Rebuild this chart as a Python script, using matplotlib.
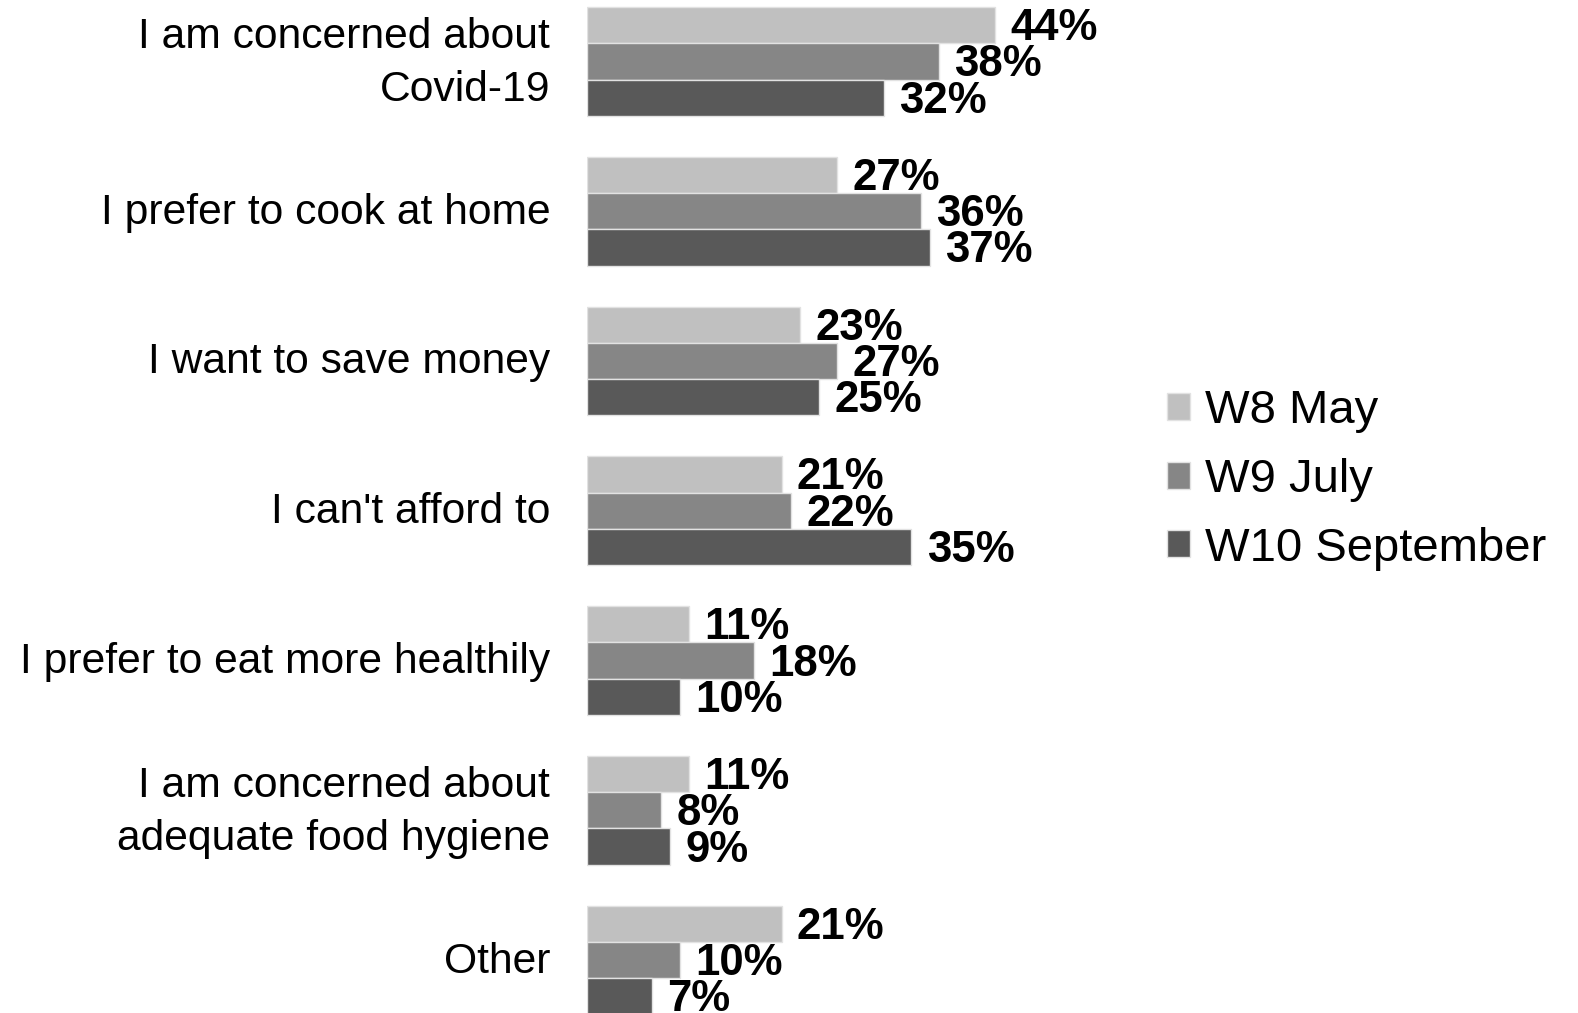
import numpy as np
import matplotlib.pyplot as plt
import matplotlib.transforms as mtransforms

plt.rcParams['font.family'] = ['Liberation Sans', 'DejaVu Sans']

# reasons, top to bottom
categories = ['I am concerned about\nCovid-19', 'I prefer to cook at home', 'I want to save money',
              "I can't afford to", 'I prefer to eat more healthily',
              'I am concerned about\nadequate food hygiene', 'Other']
w8_may = [44, 27, 23, 21, 11, 11, 21]
w9_july = [38, 36, 27, 22, 18, 8, 10]
w10_sep = [32, 37, 25, 35, 10, 9, 7]
series_names = ['W8 May', 'W9 July', 'W10 September']
colors = ['#c0c0c0', '#868686', '#595959']

fig = plt.figure(figsize=(15.78, 10.13), dpi=100)
ax = fig.add_axes([587 / 1578, 0, 480 / 1578, 1])

y = np.arange(len(categories))
h = 0.242
for k, (vals, name, c) in enumerate(zip([w8_may, w9_july, w10_sep], series_names, colors)):
    pos = y + (k - 1) * h
    ax.barh(pos, vals, height=h, color=c, edgecolor='#e2e2e2', linewidth=1, label=name)
    for p, v in zip(pos, vals):
        ax.annotate('%d%%' % v, (v, p), xytext=(11, -2.5), textcoords='offset points',
                    ha='left', va='center', fontsize=31.5, fontweight='bold', color='black')

ax.set_xlim(0, 480 / 9.27)
ax.set_ylim(6.353, -0.410)
ax.set_yticks(y)
ax.set_yticklabels(categories, fontsize=30.7, ha='right', linespacing=1.42)
ax.tick_params(axis='y', length=0, pad=26.5)
ax.set_xticks([])
for s in ax.spines.values():
    s.set_visible(False)
# nudge the category labels up a little (two-line ones a bit more)
for lab in ax.get_yticklabels():
    dy = 9 if '\n' in lab.get_text() else 3
    shift = mtransforms.ScaledTranslation(0, dy / 100, fig.dpi_scale_trans)
    lab.set_transform(lab.get_transform() + shift)

fig.legend(loc='center left', bbox_to_anchor=(1148 / 1578, 1 - 480 / 1013), frameon=False,
           fontsize=34, handlelength=0.49, handleheight=0.49, handletextpad=0.31,
           labelspacing=0.52, borderaxespad=0)

fig.savefig('out.png', dpi=100)
